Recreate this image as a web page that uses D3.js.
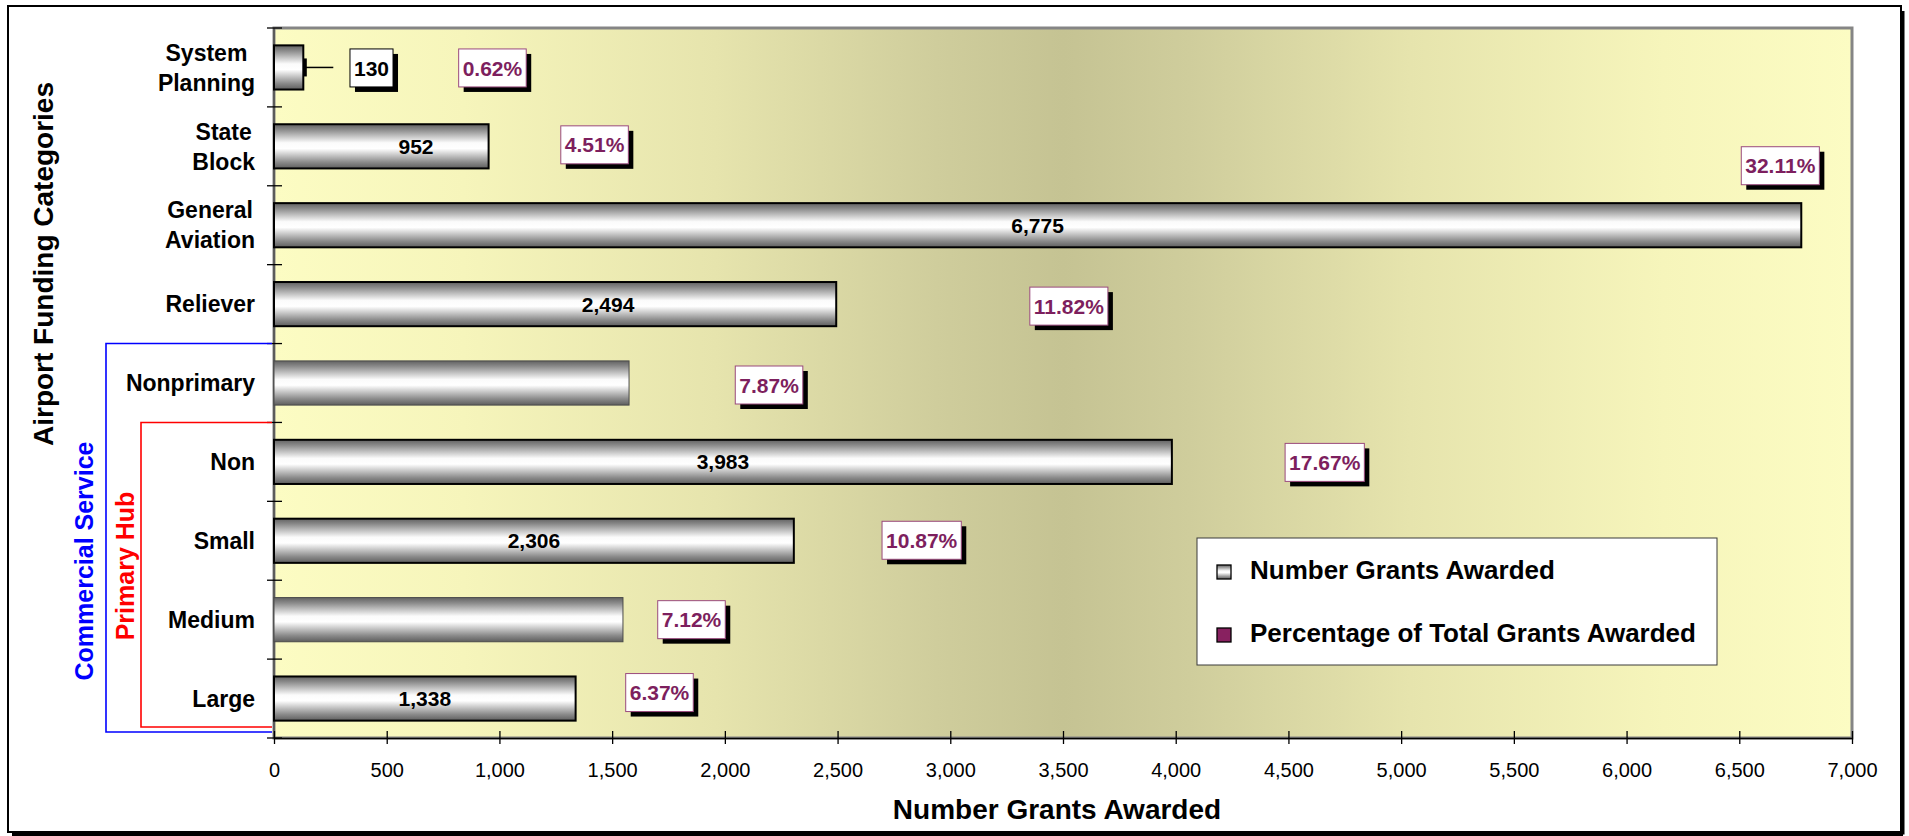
<!DOCTYPE html>
<html>
<head>
<meta charset="utf-8">
<script src="https://cdn.jsdelivr.net/npm/d3@7"></script>
<style>
  html, body { margin: 0; padding: 0; background: #ffffff; }
  svg { display: block; font-family: "Liberation Sans", Arial, sans-serif; }
</style>
</head>
<body>
<script>
// ---- data ----
const categories = ["System Planning", "State Block", "General Aviation", "Reliever",
                    "Nonprimary", "Non", "Small", "Medium", "Large"];
const categoryLines = [["System", "Planning"], ["State", "Block"], ["General", "Aviation"],
                       ["Reliever"], ["Nonprimary"], ["Non"], ["Small"], ["Medium"], ["Large"]];
const grants = [130, 952, 6775, 2494, 1575, 3983, 2306, 1548, 1338];
const pctOfTotal = [0.62, 4.51, 32.11, 11.82, 7.87, 17.67, 10.87, 7.12, 6.37];
const showsCount = [true, true, true, true, false, true, true, false, true];
const xTicks = [0, 500, 1000, 1500, 2000, 2500, 3000, 3500, 4000, 4500, 5000, 5500, 6000, 6500, 7000];
const legendItems = ["Number Grants Awarded", "Percentage of Total Grants Awarded"];

// ---- label placement (in axis units / pixel nudges) ----
const countLabelAt = [432.5, 630, null, 1482, null, null, null, null, null];
const pctLabelAt = [969, 1422, 6682, 3526, 2196, 4661, 2873, 1852, 1710];
const pctLabelDy = [0.5, -1.5, -59.5, 2, 2, 0.5, -0.5, 0, -6];

// ---- layout ----
const W = 1909, H = 836;
const plot = { left: 274, right: 1852, top: 28, bottom: 738 };
const PURPLE_TEXT = "#7d1f5e", PURPLE_EDGE = "#9a4a7d", PURPLE_FILL = "#882160";

const svg = d3.select("body").append("svg").attr("width", W).attr("height", H);
const defs = svg.append("defs");

// light - olive - light horizontal wash behind the bars
const bg = defs.append("linearGradient").attr("id", "plotBg")
  .attr("x1", 0).attr("y1", 0).attr("x2", 1).attr("y2", 0);
[[0, "#fcfcc3"], [0.12, "#f6f5bb"], [0.28, "#e6e4ad"], [0.42, "#cfcd9c"], [0.5, "#c5c393"],
 [0.58, "#cfcd9c"], [0.72, "#e6e4ad"], [0.88, "#f6f5bb"], [1, "#fcfcc3"]]
  .forEach(([o, c]) => bg.append("stop").attr("offset", o).attr("stop-color", c));

const barGrad = defs.append("linearGradient").attr("id", "barGrad")
  .attr("x1", 0).attr("y1", 0).attr("x2", 0).attr("y2", 1);
[[0, "#626262"], [0.12, "#8a8a8a"], [0.42, "#fbfbfb"], [0.55, "#ffffff"], [0.86, "#8a8a8a"], [1, "#5e5e5e"]]
  .forEach(([o, c]) => barGrad.append("stop").attr("offset", o).attr("stop-color", c));

// outer frame with shadow
svg.append("rect").attr("x", 8).attr("y", 6).attr("width", 1893).attr("height", 826)
  .attr("fill", "#ffffff").attr("stroke", "#000").attr("stroke-width", 2);
svg.append("path").attr("d", "M1903,11V834.5M12,834.5H1903")
  .attr("fill", "none").attr("stroke", "#000").attr("stroke-width", 3);

// scales
const x = d3.scaleLinear().domain([0, 7000]).range([plot.left, plot.right]);
const y = d3.scaleBand().domain(categories).range([plot.top, plot.bottom])
  .paddingInner(0.44).paddingOuter(0.22);
const step = y.step();
const bandCenter = i => y(categories[i]) + y.bandwidth() / 2;
const boundary = k => plot.top + k * step;

// plot area
svg.append("rect").attr("x", plot.left).attr("y", plot.top)
  .attr("width", plot.right - plot.left).attr("height", plot.bottom - plot.top)
  .attr("fill", "url(#plotBg)").attr("stroke", "#858585").attr("stroke-width", 3);

// category axis: line and crossing ticks at band boundaries
svg.append("line").attr("x1", plot.left).attr("x2", plot.left)
  .attr("y1", plot.top).attr("y2", plot.bottom).attr("stroke", "#333").attr("stroke-width", 1);
svg.append("g").selectAll("line").data(d3.range(categories.length + 1)).join("line")
  .attr("x1", plot.left - 7).attr("x2", plot.left + 8)
  .attr("y1", k => boundary(k)).attr("y2", k => boundary(k))
  .attr("stroke", "#000").attr("stroke-width", 1.3);

// value axis
const xAxis = d3.axisBottom(x).tickValues(xTicks).tickFormat(d3.format(","))
  .tickSizeInner(6).tickSizeOuter(0);
const gx = svg.append("g").attr("transform", `translate(0,${plot.bottom})`).call(xAxis);
gx.select(".domain").attr("stroke", "#000").attr("stroke-width", 1.3);
gx.selectAll(".tick line").attr("y1", -7).attr("y2", 6).attr("stroke", "#000").attr("stroke-width", 1.3);
gx.selectAll(".tick text").attr("y", 39).attr("dy", 0)
  .attr("font-family", "'Liberation Sans', Arial, sans-serif")
  .attr("font-size", 20).attr("fill", "#000");

// bars
svg.append("g").selectAll("rect").data(categories).join("rect")
  .attr("x", x(0))
  .attr("y", d => y(d))
  .attr("width", (d, i) => x(grants[i]) - x(0))
  .attr("height", y.bandwidth())
  .attr("fill", "url(#barGrad)")
  .attr("stroke", (d, i) => showsCount[i] ? "#000" : "#4a4a4a")
  .attr("stroke-width", (d, i) => showsCount[i] ? 2 : 1);

// small callout leader for the first bar
{
  const cy = bandCenter(0);
  svg.append("rect").attr("x", x(grants[0]) + 0.5).attr("y", cy - 9).attr("width", 3).attr("height", 18)
    .attr("fill", "#000");
  svg.append("line").attr("x1", x(grants[0]) + 2).attr("x2", x(grants[0]) + 30)
    .attr("y1", cy).attr("y2", cy).attr("stroke", "#000").attr("stroke-width", 1.5);
}

// boxed label helper (white box, coloured edge, black drop shadow)
function boxedLabel(cx, cy, text, textColor, edgeColor) {
  const g = svg.append("g");
  const shadow = g.append("rect").attr("fill", "#000");
  const box = g.append("rect").attr("fill", "#fff").attr("stroke", edgeColor).attr("stroke-width", 1);
  const t = g.append("text").attr("x", cx).attr("y", cy).attr("dy", "0.36em")
    .attr("text-anchor", "middle").attr("font-size", 21).attr("font-weight", "bold")
    .attr("fill", textColor).text(text);
  const w = t.node().getComputedTextLength() + 8, h = 38;
  box.attr("x", cx - w / 2).attr("y", cy - h / 2).attr("width", w).attr("height", h);
  shadow.attr("x", cx - w / 2 + 5).attr("y", cy - h / 2 + 5).attr("width", w).attr("height", h);
}

// count labels
const fmt = d3.format(",");
grants.forEach((v, i) => {
  if (!showsCount[i]) return;
  const cy = bandCenter(i);
  if (i === 0) {
    boxedLabel(x(countLabelAt[i]), cy + 0.5, fmt(v), "#000", "#000");
    return;
  }
  const cx = countLabelAt[i] != null ? x(countLabelAt[i]) : (x(0) + x(v)) / 2;
  svg.append("text").attr("x", cx).attr("y", cy).attr("dy", "0.36em")
    .attr("text-anchor", "middle").attr("font-size", 21).attr("font-weight", "bold")
    .attr("fill", "#000").text(fmt(v));
});

// percentage-of-total labels
pctOfTotal.forEach((p, i) => {
  boxedLabel(x(pctLabelAt[i]), bandCenter(i) + pctLabelDy[i], p.toFixed(2) + "%", PURPLE_TEXT, PURPLE_EDGE);
});

// category labels: lines centred on each other, block right-aligned
const catG = svg.append("g");
categoryLines.forEach((lines, i) => {
  const g = catG.append("g");
  const texts = lines.map((s, j) => g.append("text")
    .attr("font-size", 23).attr("font-weight", "bold").attr("fill", "#000")
    .attr("text-anchor", "middle")
    .attr("y", bandCenter(i) + 8.2 - (lines.length - 1) * 15 + j * 30)
    .text(s));
  const maxW = d3.max(texts, t => t.node().getComputedTextLength());
  texts.forEach(t => t.attr("x", 255 - maxW / 2));
});

// group brackets
const blueTop = boundary(4), redTop = boundary(5);
svg.append("path")
  .attr("d", `M${plot.left - 2},${blueTop}H106V${plot.bottom - 6}H${plot.left - 2}`)
  .attr("fill", "none").attr("stroke", "#0000ff").attr("stroke-width", 1.6);
svg.append("path")
  .attr("d", `M${plot.left - 2},${redTop}H141V${plot.bottom - 11}H${plot.left - 2}`)
  .attr("fill", "none").attr("stroke", "#ff0000").attr("stroke-width", 1.6);

svg.append("text").attr("transform", "translate(93,561) rotate(-90)")
  .attr("text-anchor", "middle").attr("font-size", 25).attr("font-weight", "bold")
  .attr("fill", "#0000ff").text("Commercial Service");
svg.append("text").attr("transform", "translate(134,566) rotate(-90)")
  .attr("text-anchor", "middle").attr("font-size", 25).attr("font-weight", "bold")
  .attr("fill", "#ff0000").text("Primary Hub");

// axis titles
svg.append("text").attr("transform", "translate(53,264) rotate(-90)")
  .attr("text-anchor", "middle").attr("font-size", 28).attr("font-weight", "bold")
  .attr("fill", "#000").text("Airport Funding Categories");
svg.append("text").attr("x", 1057).attr("y", 819)
  .attr("text-anchor", "middle").attr("font-size", 28).attr("font-weight", "bold")
  .attr("fill", "#000").text("Number Grants Awarded");

// legend
const lg = svg.append("g");
lg.append("rect").attr("x", 1197).attr("y", 538).attr("width", 520).attr("height", 127)
  .attr("fill", "#fff").attr("stroke", "#3a3a3a").attr("stroke-width", 1);
const legendBase = [579, 642];
const legendFill = ["url(#barGrad)", PURPLE_FILL];
legendItems.forEach((s, i) => {
  lg.append("rect").attr("x", 1217).attr("y", legendBase[i] - 14).attr("width", 14).attr("height", 14)
    .attr("fill", legendFill[i]).attr("stroke", "#000").attr("stroke-width", 1.3);
  lg.append("text").attr("x", 1250).attr("y", legendBase[i])
    .attr("font-size", 26).attr("font-weight", "bold").attr("fill", "#000").text(s);
});
</script>
</body>
</html>
